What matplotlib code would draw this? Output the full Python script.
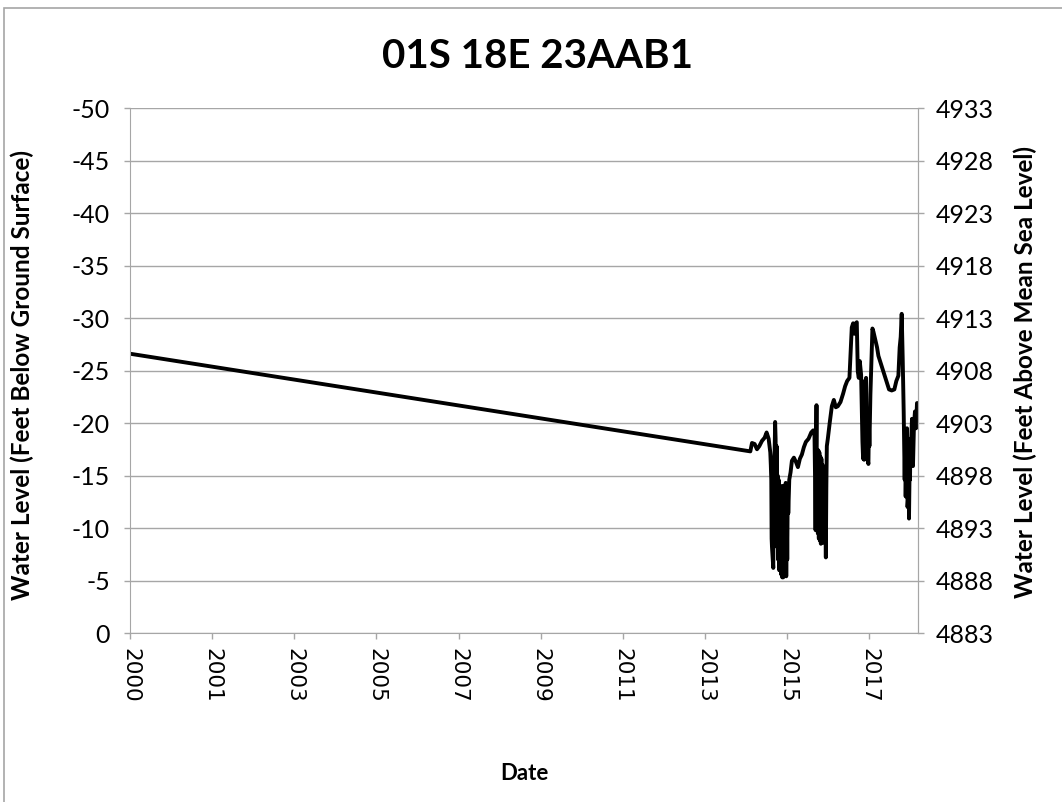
import matplotlib
matplotlib.use('Agg')
import matplotlib.pyplot as plt
from matplotlib.patches import Rectangle

# well 01S 18E 23AAB1, depth to water (negative = below ground)
years = [2000.0,
         2014.351, 2014.390, 2014.451, 2014.505, 2014.559, 2014.621, 2014.682, 2014.728,
         2014.775, 2014.813, 2014.825, 2014.836, 2014.844, 2014.852, 2014.870, 2014.882,
         2014.890, 2014.900, 2014.913, 2014.925, 2014.936, 2014.947, 2014.959, 2014.970,
         2014.982, 2014.993, 2015.005, 2015.017, 2015.029, 2015.040, 2015.052, 2015.062,
         2015.075, 2015.090, 2015.102, 2015.113, 2015.125, 2015.136, 2015.148, 2015.159,
         2015.170, 2015.182, 2015.195, 2015.205, 2015.218, 2015.229, 2015.252, 2015.282,
         2015.313, 2015.359, 2015.406, 2015.452, 2015.498, 2015.544, 2015.590, 2015.636,
         2015.698, 2015.760, 2015.806, 2015.836, 2015.848, 2015.860, 2015.870, 2015.882,
         2015.890, 2015.900, 2015.913, 2015.925, 2015.936, 2015.948, 2015.960, 2015.972,
         2015.983, 2015.995, 2016.010, 2016.025, 2016.040, 2016.055, 2016.067, 2016.080,
         2016.098, 2016.110, 2016.121, 2016.144, 2016.190, 2016.237, 2016.283, 2016.329,
         2016.375, 2016.437, 2016.498, 2016.544, 2016.591, 2016.644, 2016.698, 2016.729,
         2016.760, 2016.791, 2016.814, 2016.837, 2016.860, 2016.883, 2016.914, 2016.945,
         2016.960, 2016.972, 2016.983, 2016.995, 2017.006, 2017.018, 2017.029, 2017.040,
         2017.052, 2017.065, 2017.083, 2017.095, 2017.106, 2017.129, 2017.152, 2017.176,
         2017.199, 2017.237, 2017.283, 2017.314, 2017.375, 2017.437, 2017.499, 2017.560,
         2017.622, 2017.683, 2017.729, 2017.776, 2017.806, 2017.830, 2017.853, 2017.876,
         2017.899, 2017.922, 2017.935, 2017.945, 2017.960, 2017.976, 2017.988, 2017.999,
         2018.010, 2018.022, 2018.034, 2018.045, 2018.057, 2018.068, 2018.091, 2018.114,
         2018.137, 2018.160, 2018.184, 2018.207, 2018.230]

depth = [-26.6,
         -17.3, -18.1, -18.0, -17.5, -17.8, -18.3, -18.6, -19.1,
         -18.5, -17.2, -16.0, -14.6, -9.0, -8.2, -7.0, -6.2,
         -12.0, -16.5, -17.2, -20.1, -18.5, -10.0, -17.8, -8.2,
         -15.0, -7.0, -14.6, -6.0, -13.5, -6.0, -13.0, -5.6,
         -14.0, -5.3, -13.3, -5.3, -14.0, -5.8, -13.3, -5.6,
         -14.3, -5.4, -12.0, -7.0, -14.0, -11.4, -14.6, -15.3,
         -16.4, -16.7, -16.3, -15.8, -16.6, -17.0, -17.7, -18.2,
         -18.5, -19.1, -19.3, -18.8, -14.9, -9.8, -15.0, -21.7,
         -10.0, -17.0, -9.5, -17.4, -9.0, -17.2, -8.8, -16.8,
         -8.5, -16.6, -9.0, -16.0, -8.6, -15.5, -9.5, -15.0,
         -7.2, -14.0, -17.8, -18.5, -20.1, -21.6, -22.2, -21.5,
         -21.6, -22.0, -22.8, -23.5, -24.0, -24.3, -29.1, -29.5,
         -28.5, -29.5, -29.6, -24.9, -24.3, -25.9, -24.6, -18.2,
         -16.6, -23.0, -16.5, -24.0, -16.6, -23.5, -24.3, -17.0,
         -21.1, -16.5, -16.1, -20.0, -17.8, -22.7, -25.9, -29.0,
         -28.7, -28.0, -27.2, -26.4, -25.6, -24.8, -24.0, -23.2,
         -23.1, -23.2, -24.0, -24.5, -27.2, -28.2, -30.4, -26.2,
         -21.1, -14.6, -19.0, -13.0, -18.0, -19.5, -12.0, -12.7,
         -17.0, -10.9, -15.0, -14.6, -18.5, -17.8, -20.4, -15.9,
         -19.8, -21.1, -19.5, -21.9, -21.9]

left_ticks = [0, -5, -10, -15, -20, -25, -30, -35, -40, -45, -50]
right_ticks = [4883, 4888, 4893, 4898, 4903, 4908, 4913, 4918, 4923, 4928, 4933]
x_labels = ['2000', '2001', '2003', '2005', '2007', '2009', '2011', '2013', '2015', '2017']

plt.rcParams['font.family'] = ['Lato', 'DejaVu Sans']
grid_col = '#a6a6a6'

fig = plt.figure(figsize=(10.62, 8.02), dpi=100)
ax = fig.add_axes([0.1224, 0.2107, 0.7420, 0.6546])

ax.plot(years, depth, color='black', lw=2.8)

# date axis, major unit about 1.9 years
step = 1.9
x_ticks = [years[0] + i * step for i in range(len(x_labels))]
ax.set_xlim(years[0], years[-1])
ax.set_xticks(x_ticks)
ax.set_xticklabels(x_labels, rotation=270, fontsize=15.5, family='DejaVu Sans')

ax.set_ylim(0, -50)
ax.set_yticks(left_ticks)
ax.set_yticklabels([str(t) for t in left_ticks], fontsize=18)
ax.yaxis.grid(True, color=grid_col, lw=1)
ax.set_axisbelow(True)

for s in ['left', 'bottom', 'right']:
    ax.spines[s].set_color(grid_col)
ax.spines['top'].set_visible(False)
ax.tick_params(colors=grid_col, labelcolor='black', length=4.5, width=1)
ax.tick_params(axis='y', pad=10)
ax.tick_params(axis='x', pad=6)

ax2 = ax.twinx()
ax2.set_ylim(4883, 4933)
ax2.set_yticks(right_ticks)
ax2.set_yticklabels([str(t) for t in right_ticks], fontsize=18)
ax2.spines['top'].set_visible(False)
ax2.spines['right'].set_color(grid_col)
ax2.spines['left'].set_visible(False)
ax2.spines['bottom'].set_visible(False)
ax2.tick_params(colors=grid_col, labelcolor='black', length=4.5, width=1, pad=8)

fig.text(22 / 1062, 1 - 375 / 802, 'Water Level (Feet Below Ground Surface)', rotation=90,
         ha='center', va='center', fontsize=17.5, fontweight='bold')
fig.text(1025 / 1062, 1 - 372 / 802, 'Water Level (Feet Above Mean Sea Level)', rotation=90,
         ha='center', va='center', fontsize=17.5, fontweight='bold')
fig.text(524 / 1062, 1 - 773 / 802, 'Date', ha='center', va='center', fontsize=16, fontweight='bold')
fig.text(537 / 1062, 1 - 57 / 802, '01S 18E 23AAB1', ha='center', va='center', fontsize=29, fontweight='bold')

# chart area border (only top and left edges visible)
fig.patches.append(Rectangle((0.004, -0.1), 1.2, 1.09, transform=fig.transFigure,
                             fill=False, edgecolor='#a6a6a6', lw=1.2))

fig.savefig('out.png', dpi=100)
